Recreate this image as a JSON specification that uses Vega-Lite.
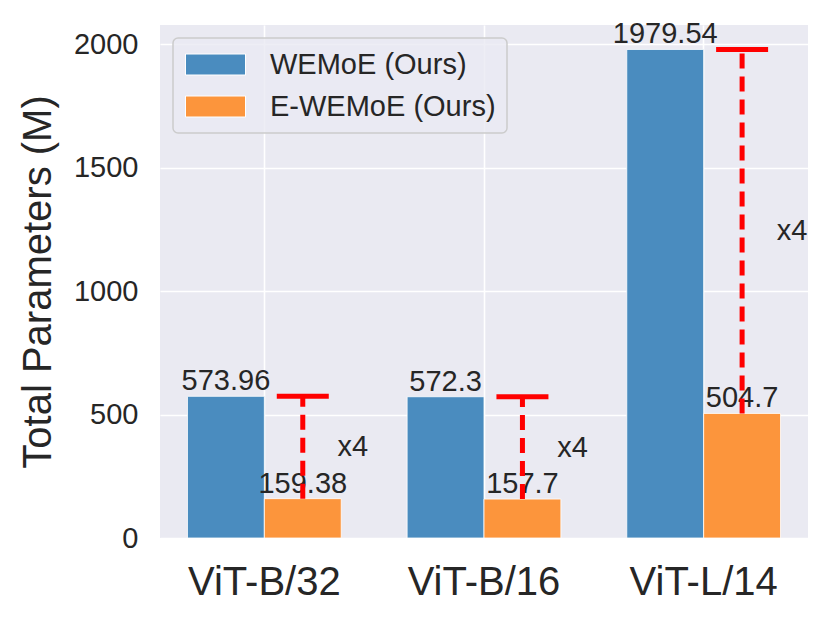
{
  "$schema": "https://vega.github.io/schema/vega-lite/v6.json",
  "width": 648,
  "height": 513,
  "autosize": {"type": "none"},
  "padding": {"left": 160, "top": 25, "right": 22, "bottom": 79},
  "background": "white",
  "config": {
    "font": "Liberation Sans",
    "view": {"fill": "#EAEAF2", "stroke": null},
    "axis": {
      "domain": false,
      "ticks": false,
      "grid": true,
      "gridColor": "white",
      "gridWidth": 1.6,
      "labelColor": "#262626",
      "titleColor": "#262626",
      "labelFont": "Liberation Sans",
      "titleFont": "Liberation Sans"
    }
  },
  "datasets": {
    "bars": [
      {"model": "ViT-B/32", "method": "WEMoE (Ours)", "params": 573.96},
      {"model": "ViT-B/32", "method": "E-WEMoE (Ours)", "params": 159.38},
      {"model": "ViT-B/16", "method": "WEMoE (Ours)", "params": 572.3},
      {"model": "ViT-B/16", "method": "E-WEMoE (Ours)", "params": 157.7},
      {"model": "ViT-L/14", "method": "WEMoE (Ours)", "params": 1979.54},
      {"model": "ViT-L/14", "method": "E-WEMoE (Ours)", "params": 504.7}
    ],
    "gaps": [
      {"model": "ViT-B/32", "method": "E-WEMoE (Ours)", "low": 159.38, "high": 573.96, "mid": 366.7, "label": "x4"},
      {"model": "ViT-B/16", "method": "E-WEMoE (Ours)", "low": 157.7, "high": 572.3, "mid": 365.0, "label": "x4"},
      {"model": "ViT-L/14", "method": "E-WEMoE (Ours)", "low": 504.7, "high": 1979.54, "mid": 1242.1, "label": "x4"}
    ]
  },
  "encoding": {
    "x": {
      "field": "model",
      "type": "nominal",
      "sort": ["ViT-B/32", "ViT-B/16", "ViT-L/14"],
      "scale": {"paddingInner": 0.3, "paddingOuter": 0.125},
      "axis": {"title": null, "labelAngle": 0, "labelFontSize": 40, "labelPadding": 24, "bandPosition": 0.5}
    },
    "xOffset": {
      "field": "method",
      "type": "nominal",
      "sort": ["WEMoE (Ours)", "E-WEMoE (Ours)"],
      "scale": {"paddingInner": 0, "paddingOuter": 0}
    }
  },
  "layer": [
    {
      "data": {"name": "bars"},
      "mark": {"type": "bar", "stroke": "white", "strokeWidth": 1, "strokeOpacity": 0.8},
      "encoding": {
        "y": {
          "field": "params",
          "type": "quantitative",
          "scale": {"domain": [0, 2078.5], "nice": false, "zero": true},
          "axis": {
            "values": [0, 500, 1000, 1500, 2000],
            "format": "d",
            "labelFontSize": 29,
            "labelPadding": 22,
            "title": "Total Parameters (M)",
            "titleFontSize": 40,
            "titleFontWeight": "normal",
            "titlePadding": 15
          }
        },
        "color": {
          "field": "method",
          "type": "nominal",
          "scale": {"domain": ["WEMoE (Ours)", "E-WEMoE (Ours)"], "range": ["#4a8cbf", "#fc953c"]},
          "legend": {
            "title": null,
            "orient": "none",
            "legendX": 13,
            "legendY": 13,
            "padding": 11,
            "fillColor": "rgba(234,234,242,0.8)",
            "strokeColor": "#cccccc",
            "cornerRadius": 5,
            "labelFontSize": 29,
            "labelColor": "#262626",
            "labelLimit": 400,
            "labelOffset": 39,
            "rowPadding": 11,
            "symbolType": "M-2,-0.7H2V0.7H-2Z",
            "symbolSize": 900,
            "symbolOffset": 16,
            "symbolStrokeColor": "white",
            "symbolStrokeWidth": 1,
            "symbolOpacity": 1,
            "encode": {"legend": {"update": {"strokeWidth": {"value": 1.5}}}}
          }
        }
      }
    },
    {
      "data": {"name": "bars"},
      "mark": {"type": "text", "fontSize": 29, "color": "#262626", "baseline": "alphabetic", "dy": -6},
      "encoding": {
        "y": {"field": "params", "type": "quantitative"},
        "text": {"field": "params", "type": "quantitative"}
      }
    },
    {
      "data": {"name": "gaps"},
      "mark": {"type": "rule", "color": "red", "strokeWidth": 5, "strokeDash": [15, 8]},
      "encoding": {
        "y": {"field": "low", "type": "quantitative"},
        "y2": {"field": "high"}
      }
    },
    {
      "data": {"name": "gaps"},
      "mark": {"type": "tick", "color": "red", "size": 52, "thickness": 5, "opacity": 1, "orient": "horizontal"},
      "encoding": {
        "y": {"field": "high", "type": "quantitative"}
      }
    },
    {
      "data": {"name": "gaps"},
      "mark": {"type": "text", "fontSize": 29, "color": "#262626", "baseline": "middle", "align": "center", "dx": 50},
      "encoding": {
        "y": {"field": "mid", "type": "quantitative"},
        "text": {"field": "label"}
      }
    }
  ]
}
